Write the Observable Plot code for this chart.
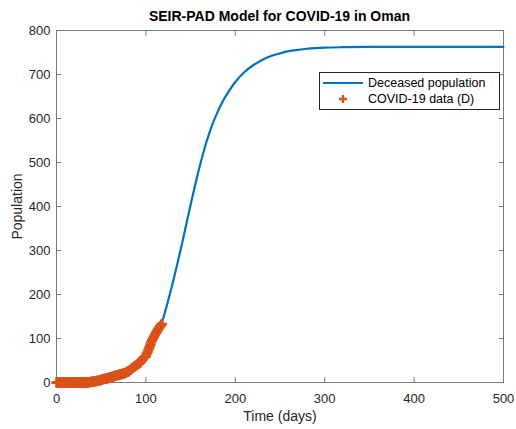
<!DOCTYPE html>
<html>
<head>
<meta charset="utf-8">
<script src="https://cdn.jsdelivr.net/npm/d3@7"></script>
<script src="https://cdn.jsdelivr.net/npm/@observablehq/plot@0.6"></script>
<style>
  html, body { margin: 0; padding: 0; background: #fff; }
  #wrap { position: relative; width: 516px; height: 429px; font-family: "Liberation Sans", Arial, sans-serif; }
  #title { position: absolute; left: 56px; width: 447px; top: 8px; text-align: center; font-weight: bold; font-size: 14px; color: #000; }
  #legend { position: absolute; left: 319px; top: 72px; width: 181px; height: 38px; border: 1px solid #262626; background: #fff; font-size: 12.5px; color: #000; box-sizing: border-box; }
  .row { position: absolute; left: 0; height: 16px; line-height: 16px; }
  .lbl { position: absolute; left: 48px; white-space: nowrap; }
</style>
</head>
<body>
<div id="wrap">
  <div id="chart"></div>
  <div id="title">SEIR-PAD Model for COVID-19 in Oman</div>
  <div id="legend">
    <div class="row" style="top:2px;width:180px;"><svg width="46" height="16" style="position:absolute;left:3px;top:0"><line x1="0" y1="8" x2="40" y2="8" stroke="#0072BD" stroke-width="2.2"/></svg><span class="lbl">Deceased population</span></div>
    <div class="row" style="top:18px;width:180px;"><svg width="46" height="16" style="position:absolute;left:3px;top:0"><path d="M20,4V12M16,8H24" stroke="#D95319" stroke-width="2.4"/></svg><span class="lbl">COVID-19 data (D)</span></div>
  </div>
</div>
<script>
// Model curve (deceased population), days
const modelDays = [0, 20, 40, 60, 80, 90, 100, 110, 117, 120, 125, 130, 135, 140, 145, 150, 155, 160, 165, 170, 175, 180, 185, 190, 200, 210, 220, 230, 240, 250, 260, 270, 280, 290, 300, 320, 350, 400, 500];
const modelVals = [0, 0.3, 2, 10, 25, 40, 62, 98, 130, 150, 187, 226, 268, 312, 358, 404, 448, 490, 528, 561, 590, 614, 635, 653, 683, 705, 721, 733, 742, 748, 753, 756, 758.5, 760, 761, 762, 763, 763, 763];

// Observed COVID-19 deaths, day 0..118
const dataDays = d3.range(0, 119);
const dataVals = [
  0,0,0,0,0,0,0,0,0,0,
  0,0,0,0,0,0,0,0,0,0,
  0,0,0,0,0,0,0,0,0,0,
  0,0,0,0,0,0,1,1,1,2,
  2,2,2,3,3,3,4,4,5,5,
  6,7,7,8,8,9,9,10,10,11,
  12,12,13,13,14,15,15,16,17,17,
  18,18,19,19,20,20,21,22,23,24,
  25,26,28,29,31,33,34,36,37,39,
  40,42,43,45,46,50,52,55,57,58,
  60,66,70,75,80,86,92,96,100,104,
  108,112,115,119,122,125,128,131,133,135,
  137,138,139
].slice(0, 119);

const line = modelDays.map((d, i) => ({t: d, v: modelVals[i]}));
const pts = dataDays.map((d, i) => ({t: d, v: dataVals[i]}));

const xTicks = [0, 100, 200, 300, 400, 500];
const yTicks = [0, 100, 200, 300, 400, 500, 600, 700, 800];
const blank = () => "";
const chart = Plot.plot({
  width: 516,
  height: 429,
  marginLeft: 56,
  marginRight: 13,
  marginTop: 30,
  marginBottom: 47,
  style: {fontFamily: "Liberation Sans, Arial, sans-serif", fontSize: "13px", color: "#262626", background: "#fff"},
  x: {domain: [0, 500]},
  y: {domain: [0, 800]},
  marks: [
    Plot.frame({stroke: "#7a7a7a", strokeWidth: 1}),
    Plot.axisX({anchor: "bottom", ticks: xTicks, tickSize: -5, tickPadding: 16, label: "Time (days)", labelAnchor: "center", labelArrow: "none", labelOffset: 38, stroke: "#7a7a7a", fill: "#262626"}),
    Plot.axisX({anchor: "top", ticks: xTicks, tickSize: -5, tickFormat: blank, label: null, stroke: "#7a7a7a"}),
    Plot.axisY({anchor: "left", ticks: yTicks, tickSize: -5, tickPadding: 11, label: "Population", labelAnchor: "center", labelArrow: "none", labelOffset: 44, stroke: "#7a7a7a", fill: "#262626"}),
    Plot.axisY({anchor: "right", ticks: yTicks, tickSize: -5, tickFormat: blank, label: null, stroke: "#7a7a7a"}),
    Plot.line(line, {x: "t", y: "v", stroke: "#0072BD", strokeWidth: 2.2, curve: "catmull-rom"}),
    Plot.dot(pts, {x: "t", y: "v", symbol: "plus", stroke: "#D95319", strokeWidth: 2.6, r: 3.4})
  ]
});
// enlarge axis titles slightly to match reference
chart.querySelectorAll('g[aria-label="x-axis label"] text, g[aria-label="y-axis label"] text').forEach(t => t.style.fontSize = "14px");
document.getElementById("chart").appendChild(chart);
</script>
</body>
</html>
